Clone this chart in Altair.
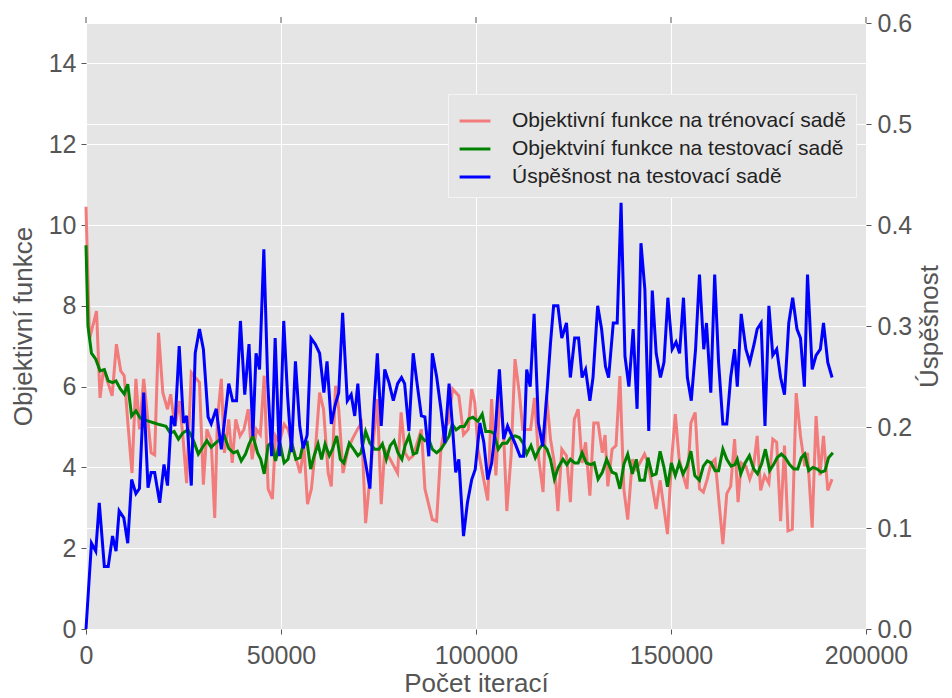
import altair as alt
import pandas as pd

# ---- data ----
train_it = [0, 900, 2700, 3600, 4500, 6700, 7800, 8900, 9800, 10800, 11800, 12800, 13700, 14800,
            16700, 17600, 18600, 19700, 20900, 21700, 22800, 24000, 24900, 25800, 27000, 29100,
            30100, 31000, 32100, 33000, 33700, 34700, 35500, 36600, 37500, 38400, 39500, 40500,
            41600, 42600, 43700, 44700, 45700, 46700, 47800, 48600, 49600, 50800, 51800, 52700,
            54900, 55900, 56800, 57800, 58900, 59900, 60900, 62100, 62900, 64000, 64800, 65900,
            67200, 68300, 69600, 70600, 71700, 74700, 75700, 76600, 79900, 80800, 81800, 82800,
            83900, 86000, 86900, 88800, 89900, 91000, 92000, 92900, 94000, 95600, 96800, 98000,
            98900, 99700, 100500, 103000, 104000, 105100, 106200, 107100, 107900, 109000, 110000,
            111100, 112000, 114000, 115000, 116100, 117200, 118100, 119100, 120100, 121000,
            122000, 123200, 124200, 125200, 126200, 127200, 128100, 129200, 130200, 131300,
            132400, 133100, 133800, 134900, 135900, 136900, 137900, 138900, 140100, 141100,
            142000, 143200, 144100, 145200, 146200, 147200, 149100, 150100, 151100, 152100,
            153100, 154100, 155100, 156200, 157300, 158300, 159300, 160300, 161300, 163300,
            164300, 165300, 166300, 167200, 168000, 169200, 170200, 171100, 172100, 173000,
            174000, 175100, 176100, 177100, 178100, 179100, 180000, 181100, 182100, 183200,
            184300, 185000, 186200, 187200, 188200, 189100, 190200, 191300]
train_loss = [10.45, 7.18, 7.87, 5.72, 6.44, 5.77, 7.05, 6.39, 6.27, 5.02, 3.86, 6.19, 4.94, 6.19,
              4.36, 4.31, 7.33, 5.85, 5.44, 5.81, 5.02, 5.64, 4.70, 3.61, 6.35, 6.10,
              3.57, 4.94, 4.66, 2.75, 5.19, 6.19, 4.36, 5.19, 4.11, 5.19, 4.78, 4.94,
              5.44, 4.20, 4.94, 4.81, 6.27, 3.47, 3.22, 4.78, 4.62, 5.07, 4.94, 4.62,
              3.86, 4.50, 3.09, 3.47, 4.54, 5.85, 5.44, 3.86, 3.53, 6.02, 5.44, 3.86,
              4.45, 4.70, 4.94, 5.10, 2.62, 5.69, 3.09, 4.45, 3.86, 5.36, 4.36, 4.20,
              4.29, 4.94, 3.47, 2.71, 2.67, 4.45, 5.02, 5.10, 5.94, 5.77, 4.81, 4.94,
              5.94, 5.60, 4.45, 3.18, 5.69, 3.80, 5.85, 4.78, 2.92, 4.29, 6.68,
              5.85, 4.94, 4.94, 5.72, 4.20, 3.39, 5.77, 4.70, 4.11, 2.92,
              4.45, 4.29, 3.14, 5.19, 5.44, 4.11, 4.62, 3.30, 5.10, 5.10,
              4.36, 4.80, 3.53, 4.45, 4.54, 6.26, 3.47, 2.71, 4.20, 3.96,
              4.11, 4.33, 4.11, 3.53, 2.97, 3.68, 2.35, 4.11, 5.32, 4.20,
              3.80, 3.47, 5.10, 5.36, 3.47, 3.39, 3.71, 4.11, 4.20, 2.10,
              3.35, 3.53, 4.70, 3.14, 4.11, 4.03, 3.71, 3.96, 4.78, 3.43,
              3.80, 3.61, 4.70, 4.62, 2.67, 4.54, 2.43, 2.47, 5.84, 4.78,
              4.03, 4.36, 2.51, 5.27, 3.80, 4.78, 3.43, 3.71]

test_it = [0, 500, 1400, 2500, 3600, 4700, 5700, 6800, 7700, 8800, 9800, 10700, 11700, 12800,
           13900, 14900, 16200, 17500, 18800, 20500, 21600, 22600, 23700, 24800, 26100, 26900,
           27800, 28800, 29900, 31000, 32100, 33200, 34200, 35500, 36600, 37800, 38800, 39800,
           40900, 41800, 42800, 44000, 44800, 45700, 46700, 47600, 48600, 49700, 50800, 51800,
           52700, 53800, 54900, 55700, 56700, 57600, 58500, 59500, 60400, 61300, 62400, 63200,
           64300, 65200, 66100, 67500, 68600, 69700, 70500, 71700, 72800, 74000, 75100, 76000,
           77000, 78000, 79000, 80000, 81000, 81800, 82800, 83900, 84800, 85800, 86900, 87900,
           88800, 89900, 91000, 92000, 93100, 93900, 94900, 96000, 97000, 98100, 99200, 100500,
           101600, 102500, 103600, 104600, 105700, 106800, 107900, 108900, 110000, 111100,
           112200, 113000, 114100, 115200, 116200, 117100, 118200, 119100, 120100, 121100,
           122300, 123300, 124200, 125300, 126200, 127200, 128300, 129400, 130300, 131300,
           132400, 133500, 134900, 135900, 136900, 137900, 138900, 140100, 141100, 142000,
           143200, 144100, 145200, 146200, 147200, 148200, 149100, 150100, 151100, 152100,
           153100, 154100, 155100, 156100, 157300, 158300, 159300, 160300, 161300, 162200,
           163300, 164300, 165400, 166400, 167000, 167900, 169000, 170100, 171200, 172200,
           173300, 174200, 175300, 176300, 177200, 178300, 179300, 180400, 181500, 182500,
           183400, 184300, 185300, 186400, 187500, 188500, 189500, 190400, 191500]
test_loss = [9.5, 7.50, 6.83, 6.68, 6.39, 6.42, 6.14, 6.10, 6.14, 5.94, 5.82, 6.06, 5.27, 5.40,
             5.22, 5.18, 5.14, 5.10, 5.06, 5.02, 4.85, 4.89, 4.70, 4.85, 4.93, 4.81,
             4.60, 4.33, 4.50, 4.66, 4.50, 4.60, 4.68, 4.78, 4.47, 4.36, 4.40, 4.16,
             4.33, 4.58, 4.78, 4.36, 4.20, 3.84, 4.54, 4.62, 4.16, 4.62, 4.11, 4.20,
             4.62, 4.20, 4.24, 4.58, 4.62, 3.96, 4.29, 4.58, 4.20, 4.58, 4.29, 4.45,
             4.78, 4.20, 4.11, 4.60, 4.45, 4.29, 4.36, 4.89, 4.60, 4.45, 4.45, 4.58,
             4.20, 4.54, 4.66, 4.36, 4.20, 4.54, 4.78, 4.33, 4.36, 4.78, 4.66, 4.70,
             4.45, 4.36, 4.45, 4.60, 4.78, 5.07, 4.93, 5.01, 5.01, 5.20, 5.24, 5.14,
             5.32, 4.89, 4.89, 4.85, 4.45, 4.60, 4.60, 4.74, 4.78, 4.74,
             4.58, 4.33, 4.54, 4.24, 4.45, 4.58, 4.45, 4.20, 3.71, 4.00,
             4.20, 4.07, 4.20, 4.11, 4.11, 4.36, 4.11, 4.07, 4.11, 3.71,
             3.88, 4.20, 3.88, 3.84, 3.47, 4.07, 4.33, 3.84, 4.20, 3.68,
             3.68, 4.24, 3.80, 3.84, 4.40, 4.00, 3.52, 4.11, 3.80, 4.11,
             3.84, 4.03, 4.40, 3.80, 3.68, 4.03, 4.16, 4.11, 3.92, 3.92,
             4.45, 4.20, 4.03, 4.07, 4.20, 3.84, 4.11, 4.29, 3.96, 3.84,
             4.11, 4.45, 3.92, 4.07, 4.24, 4.33, 4.24, 4.07, 3.96, 3.96,
             4.24, 4.33, 3.92, 4.00, 3.96, 3.88, 3.92, 4.24, 4.36]

acc_it = [0, 1400, 2500, 3400, 4700, 5700, 6800, 7700, 8500, 9700, 10700, 11700, 12800, 13700,
          14800, 15900, 16700, 17600, 18900, 20000, 20900, 21900, 22800, 23900, 25000, 25800,
          27000, 28000, 29100, 30100, 31300, 32100, 33400, 34700, 36600, 37600, 38600, 39600,
          40700, 41800, 42800, 43600, 44500, 45600, 46600, 47600, 48500, 49600, 50700, 51700,
          52700, 53700, 54800, 55700, 56700, 57700, 58800, 59900, 61000, 61800, 62900, 63900,
          64800, 65800, 67000, 68000, 68900, 69700, 70800, 71700, 72800, 73800, 74700, 75700,
          76600, 77700, 78800, 79900, 80900, 81700, 82800, 83900, 85000, 86000, 86900, 87900,
          88800, 89900, 91000, 92000, 93100, 93900, 94800, 95600, 96800, 97800, 98900, 99800,
          101000, 102000, 103000, 104000, 105000, 106000, 107100, 108100, 109100, 110200,
          111300, 112200, 113000, 113900, 114900, 116000, 117100, 118200, 119100, 119900,
          121000, 122000, 123200, 124200, 125300, 126300, 127200, 128100, 129200, 130000,
          131200, 132200, 133200, 134000, 135200, 136200, 137200, 138200, 139200, 140300,
          141300, 142300, 143300, 144300, 145200, 146200, 147300, 148200, 149200, 150300,
          151300, 152200, 153200, 154200, 155200, 156300, 157300, 158400, 159100, 160200,
          161200, 162200, 163300, 164300, 165300, 166300, 167000, 168000, 169200, 170200,
          171300, 172100, 173100, 174100, 175100, 176100, 177100, 178100, 179100, 180200,
          181200, 182300, 183200, 184200, 185000, 186200, 187200, 188300, 189100, 190200,
          191300]
accuracy = [0.0, 0.085, 0.077, 0.125, 0.062, 0.062, 0.092, 0.077, 0.117, 0.110, 0.085, 0.148, 0.134, 0.139,
            0.234, 0.140, 0.155, 0.155, 0.125, 0.163, 0.142, 0.211, 0.201, 0.280, 0.204, 0.211,
            0.142, 0.273, 0.297, 0.277, 0.210, 0.203, 0.218, 0.178, 0.243, 0.226, 0.226, 0.305,
            0.232, 0.282, 0.191, 0.273, 0.257, 0.376, 0.244, 0.171, 0.288, 0.171, 0.305, 0.230,
            0.175, 0.265, 0.201, 0.179, 0.192, 0.288, 0.282, 0.273, 0.234, 0.265, 0.203, 0.222,
            0.234, 0.313, 0.226, 0.232, 0.211, 0.243, 0.184, 0.164, 0.139, 0.218, 0.273, 0.201,
            0.257, 0.244, 0.226, 0.243, 0.249, 0.243, 0.196, 0.273, 0.240, 0.211, 0.210, 0.171,
            0.273, 0.250, 0.218, 0.184, 0.243, 0.204, 0.155, 0.168, 0.092, 0.125, 0.148, 0.158,
            0.204, 0.185, 0.148, 0.164, 0.198, 0.257, 0.188, 0.201, 0.192, 0.182,
            0.171, 0.171, 0.257, 0.240, 0.312, 0.204, 0.181, 0.234, 0.283, 0.320,
            0.320, 0.288, 0.303, 0.249, 0.288, 0.288, 0.249, 0.257, 0.226, 0.249,
            0.320, 0.297, 0.260, 0.249, 0.303, 0.303, 0.422, 0.270, 0.240, 0.297,
            0.218, 0.382, 0.336, 0.196, 0.335, 0.273, 0.249, 0.264, 0.328, 0.277,
            0.284, 0.273, 0.328, 0.249, 0.226, 0.277, 0.351, 0.277, 0.303, 0.234,
            0.351, 0.264, 0.203, 0.203, 0.249, 0.277, 0.240, 0.312, 0.277, 0.264,
            0.282, 0.297, 0.303, 0.201, 0.320, 0.271, 0.277, 0.249, 0.232, 0.303,
            0.328, 0.297, 0.288, 0.240, 0.351, 0.257, 0.271, 0.277, 0.303, 0.264,
            0.249]

series_names = ["Objektivní funkce na trénovací sadě",
                "Objektviní funkce na testovací sadě",
                "Úspěšnost na testovací sadě"]
series_colors = ["#F27B7B", "#008000", "#0000FF"]

x_ticks = [0, 50000, 100000, 150000, 200000]
left_ticks = [0, 2, 4, 6, 8, 10, 12, 14]
right_ticks = [0.0, 0.1, 0.2, 0.3, 0.4, 0.5, 0.6]

df_train = pd.DataFrame({"it": train_it, "v": train_loss, "s": series_names[0]})
df_test = pd.DataFrame({"it": test_it, "v": test_loss, "s": series_names[1]})
df_acc = pd.DataFrame({"it": acc_it, "v": accuracy, "s": series_names[2]})
df_xticks = pd.DataFrame({"it": x_ticks})

FONT = "Liberation Sans"
GREY = "#555555"

color = alt.Color(
    "s:N",
    scale=alt.Scale(domain=series_names, range=series_colors),
    legend=alt.Legend(
        title=None, orient="none", legendX=362, legendY=71,
        symbolType="stroke", symbolSize=950, symbolStrokeWidth=3,
        labelFontSize=21, labelFont=FONT, labelColor="#222222", labelLimit=500,
        labelOffset=20, rowPadding=1, padding=10,
        fillColor="#E5E5E5", strokeColor="#F4F4F4",
    ),
)

xscale = alt.Scale(domain=[0, 200000], nice=False)

x_bottom = alt.X(
    "it:Q", scale=xscale,
    axis=alt.Axis(values=x_ticks, format="d", title="Počet iterací", orient="bottom",
                  grid=True, labelFlush=False, labelPadding=9, titlePadding=2),
)
x_plain = alt.X("it:Q", scale=xscale)

y_left = alt.Y("v:Q", scale=alt.Scale(domain=[0, 15], nice=False),
               axis=alt.Axis(values=left_ticks, title="Objektivní funkce", orient="left",
                             grid=True, labelFlush=False, titlePadding=12))
y_left_hidden = alt.Y("v:Q", scale=alt.Scale(domain=[0, 15], nice=False), axis=None)
y_right = alt.Y("v:Q", scale=alt.Scale(domain=[0, 0.6], nice=False),
                axis=alt.Axis(values=right_ticks, format=".1f", title="Úspěšnost",
                              orient="right", grid=True, labelFlush=False, labelPadding=6,
                              titleAngle=270, titleBaseline="top", titlePadding=5))

train = alt.Chart(df_train).mark_line(strokeWidth=3).encode(x=x_bottom, y=y_left, color=color)
test = alt.Chart(df_test).mark_line(strokeWidth=3).encode(x=x_plain, y=y_left_hidden, color=color)
acc = alt.Chart(df_acc).mark_line(strokeWidth=3).encode(x=x_plain, y=y_right, color=color)

# small tick marks along the top edge (matplotlib draws ticks on all sides)
top_ticks = alt.Chart(df_xticks).mark_rule(color=GREY, strokeWidth=1).encode(
    x=x_plain,
    y=alt.value(-6), y2=alt.value(0),
)

chart = (
    alt.layer(train, test, acc, top_ticks)
    .resolve_scale(y="independent")
    .properties(width=780, height=606,
                padding={"left": 2, "top": 3, "right": 0, "bottom": 0})
    .configure_view(fill="#E5E5E5", stroke=None, clip=False)
    .configure_axis(
        labelFont=FONT, titleFont=FONT, labelFontSize=25, titleFontSize=26,
        labelColor=GREY, titleColor=GREY, titleFontWeight="normal",
        domain=False, tickColor=GREY, tickSize=5, tickWidth=1,
        gridColor="#FFFFFF", gridWidth=1, gridOpacity=1, labelPadding=5,
    )
)

chart.save("out.html", embed_options={"renderer": "svg", "actions": False})
